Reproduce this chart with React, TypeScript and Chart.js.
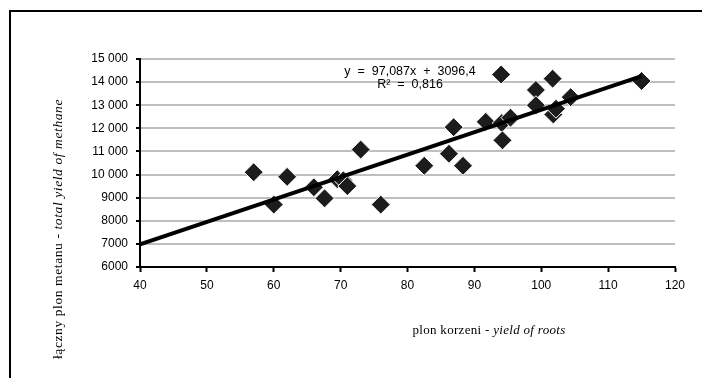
import React, { useEffect, useRef } from 'react';
import { Chart, registerables } from 'chart.js';

Chart.register(...registerables);

// ---- data ----
const rootYield = [57.0, 60.0, 62.0, 66.0, 67.6, 69.5, 70.4, 71.0, 73.0, 76.0, 82.5, 86.2, 86.9, 88.3, 91.7, 94.0, 94.1, 94.2, 95.4, 99.2, 99.2, 101.7, 101.8, 102.2, 104.4, 115.0];
const methaneYield = [10100, 8700, 9900, 9450, 8970, 9800, 9750, 9500, 11080, 8700, 10380, 10900, 12050, 10380, 12280, 14330, 12230, 11480, 12460, 13660, 13000, 14150, 12600, 12850, 13350, 14050];

const trendSlope = 97.087;
const trendIntercept = 3096.4;
const trendRange = [40, 115];

const xTicksMin = 40;
const xTicksMax = 120;
const xStep = 10;
const yTicksMin = 6000;
const yTicksMax = 15000;
const yStep = 1000;

const equationLines = ['y  =  97,087x  +  3096,4', 'R²  =  0,816'];
const xTitleParts = [
  { text: 'plon korzeni - ', italic: false },
  { text: 'yield of roots', italic: true },
];
const yTitleParts = [
  { text: 'łączny plon metanu - ', italic: false },
  { text: 'total yield of methane', italic: true },
];

function fmtY(v: number): string {
  const s = String(Math.round(v));
  if (s.length > 4) return s.slice(0, s.length - 3) + ' ' + s.slice(s.length - 3);
  return s;
}

function drawMixed(ctx: CanvasRenderingContext2D, parts: { text: string; italic: boolean }[], cx: number, cy: number, rot: number, size: number, spacing: number) {
  ctx.save();
  ctx.translate(cx, cy);
  ctx.rotate(rot);
  ctx.textBaseline = 'middle';
  ctx.textAlign = 'left';
  ctx.fillStyle = '#000';
  (ctx as any).letterSpacing = `${spacing}px`;
  const fontFor = (it: boolean) => `${it ? 'italic ' : ''}${size}px "Liberation Serif", "Times New Roman", serif`;
  let total = 0;
  const widths = parts.map((p) => {
    ctx.font = fontFor(p.italic);
    const w = ctx.measureText(p.text).width;
    total += w;
    return w;
  });
  let x = -total / 2;
  parts.forEach((p, i) => {
    ctx.font = fontFor(p.italic);
    ctx.fillText(p.text, x, 0);
    x += widths[i];
  });
  ctx.restore();
}

const decorPlugin = {
  id: 'decor',
  afterDraw(chart: any) {
    const ctx: CanvasRenderingContext2D = chart.ctx;
    ctx.save();
    // outer frame
    ctx.strokeStyle = '#000';
    ctx.lineWidth = 2;
    ctx.beginPath();
    ctx.moveTo(10, 378);
    ctx.lineTo(10, 11);
    ctx.lineTo(702, 11);
    ctx.stroke();
    // equation
    ctx.font = '12.5px "Liberation Sans", Arial, sans-serif';
    ctx.textAlign = 'center';
    ctx.textBaseline = 'middle';
    ctx.fillStyle = '#000';
    ctx.fillText(equationLines[0], 410, 72);
    ctx.fillText(equationLines[1], 410, 85);
    ctx.restore();
    // axis titles
    drawMixed(ctx, xTitleParts, 489, 331, 0, 13, 0.3);
    drawMixed(ctx, yTitleParts, 58, 229, -Math.PI / 2, 13.5, 0.6);
  },
};

export default function App() {
  const ref = useRef<HTMLCanvasElement | null>(null);
  useEffect(() => {
    if (!ref.current) return;
    const points = rootYield.map((x, i) => ({ x, y: methaneYield[i] }));
    const trend = trendRange.map((x) => ({ x, y: trendIntercept + trendSlope * x }));
    const tickFont = { family: '"Liberation Sans", Arial, sans-serif', size: 12 };
    const chart = new Chart(ref.current, {
      type: 'scatter',
      data: {
        datasets: [
          {
            label: 'data',
            data: points,
            pointStyle: 'rectRot',
            pointRadius: 9.5,
            backgroundColor: '#1c1c1c',
            borderColor: '#ffffff',
            borderWidth: 1,
            order: 2,
          },
          {
            label: 'trend',
            data: trend,
            showLine: true,
            borderColor: '#000',
            borderWidth: 4,
            pointRadius: 0,
            fill: false,
            order: 1,
          } as any,
        ],
      },
      options: {
        animation: false,
        responsive: true,
        maintainAspectRatio: false,
        layout: { padding: { left: 0, top: 59, right: 27, bottom: 0 } },
        plugins: { legend: { display: false }, tooltip: { enabled: false } },
        scales: {
          x: {
            type: 'linear',
            min: xTicksMin,
            max: xTicksMax,
            ticks: { stepSize: xStep, color: '#000', font: tickFont, padding: 6, maxRotation: 0 },
            grid: { drawOnChartArea: false, drawTicks: true, tickLength: 5, tickColor: '#000', tickWidth: 2 },
            border: { color: '#000', width: 2 },
            afterFit: (s: any) => { s.height = 111; },
          },
          y: {
            type: 'linear',
            min: yTicksMin,
            max: yTicksMax,
            ticks: { stepSize: yStep, color: '#000', font: tickFont, padding: 8, callback: (v: any) => fmtY(Number(v)) },
            grid: {
              color: (c: any) => (c.tick && c.tick.value === yTicksMin ? 'rgba(0,0,0,0)' : '#bfbfbf'),
              lineWidth: 2,
              drawTicks: true,
              tickLength: 4,
              tickColor: '#000',
              tickWidth: 2,
            },
            border: { color: '#000', width: 2 },
            afterFit: (s: any) => { s.width = 140; },
          },
        },
      },
      plugins: [decorPlugin],
    } as any);
    return () => chart.destroy();
  }, []);
  return (
    <div style={{ position: 'absolute', left: 0, top: 0, width: 702, height: 378, background: '#fff' }}>
      <canvas ref={ref} />
    </div>
  );
}
